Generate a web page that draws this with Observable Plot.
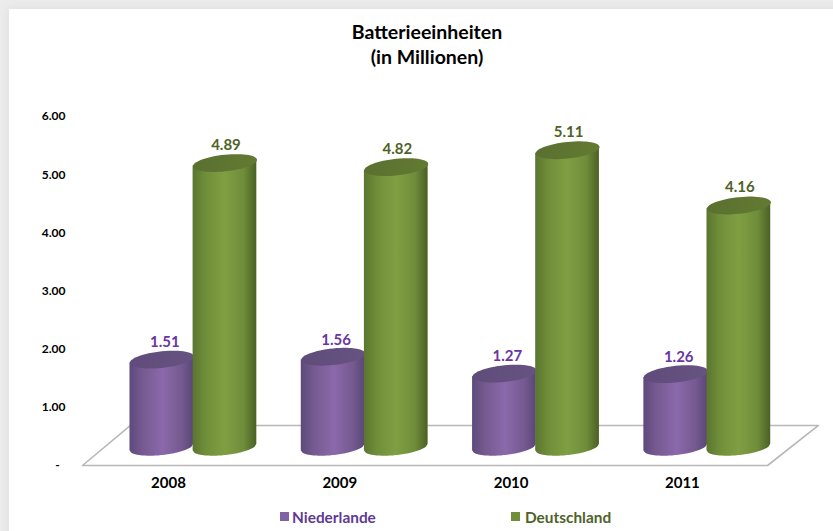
<!DOCTYPE html>
<html><head><meta charset="utf-8">
<script src="https://cdn.jsdelivr.net/npm/d3@7"></script>
<script src="https://cdn.jsdelivr.net/npm/@observablehq/plot@0.6"></script>
<style>
html,body{margin:0;padding:0;background:#ececec;overflow:hidden}
#wrap{position:absolute;left:9px;top:9px;width:900px;height:600px;background:#fff;box-shadow:0 0 8px 2px #e2e2e2}
#page{position:absolute;left:0;top:0;width:833px;height:531px;font-family:Lato,sans-serif;font-weight:700}
#title{height:56px;padding:19px 0 1px 21px;text-align:center;font-size:19.5px;line-height:25px;color:#000;box-sizing:content-box}
#legend{position:relative;height:31px;font-size:15.4px}
#legend span{position:absolute;top:7px;line-height:20px}
#legend i{position:absolute;top:12px;width:9px;height:9px}
svg{display:block}
</style></head><body>
<div id="wrap"></div>
<div id="page">
<div id="title">Batterieeinheiten<br>(in Millionen)</div>
<div id="chart"></div>
<div id="legend">
<i style="left:280px;background:#8064a2"></i><span style="left:292px;color:#5f3a95">Niederlande</span>
<i style="left:511px;background:#6f8f38"></i><span style="left:525px;color:#4f6228">Deutschland</span>
</div>
</div>
<script>
const years = ["2008","2009","2010","2011"];
const niederlande = [1.51,1.56,1.27,1.26];
const deutschland = [4.89,4.82,5.11,4.16];
const yTicks = [0,1,2,3,4,5,6];
const floorX = [-0.642,3.357,3.654,-0.362,-0.642];
const floorY = [0,0,0.688,0.688,0];
const depth = 0.31, halfW = 0.186, capH = 0.14, tilt = 0.055, labelShift = 0.14, nudge = 0.007;

const bars = [];
years.forEach((y,i)=>{
  bars.push({key:y+"N",series:"N",cx:i-halfW+nudge,value:niederlande[i]});
  bars.push({key:y+"D",series:"D",cx:i+halfW+nudge/2,value:deutschland[i]});
});
bars.forEach(b=>{b.top=b.value+depth;});
const outline = bars.flatMap(b=>d3.range(-1,1.0001,0.05).map(t=>({
  key:b.key, series:b.series,
  x:b.cx+t*halfW,
  y1:depth+t*tilt-capH*Math.sqrt(Math.max(0,1-t*t)),
  y2:b.top+t*tilt
})));
const cap = {draw(c,size){
  const a=Math.sqrt(size/Math.PI), b=a*0.26, k=0.1;
  for(let n=0;n<=60;n++){
    const t=n/60*2*Math.PI, X=a*Math.cos(t), Y=b*Math.sin(t)-k*X;
    n?c.lineTo(X,Y):c.moveTo(X,Y);
  }
  c.closePath();
}};
function defs(){
  const NS="http://www.w3.org/2000/svg", d=document.createElementNS(NS,"defs");
  const g=(id,stops)=>{
    const l=document.createElementNS(NS,"linearGradient");l.setAttribute("id",id);
    stops.forEach(([o,c])=>{const s=document.createElementNS(NS,"stop");s.setAttribute("offset",o);s.setAttribute("stop-color",c);l.appendChild(s);});
    d.appendChild(l);
  };
  g("gp",[[0,"#5d4a7c"],[0.2,"#75598f"],[0.52,"#8b69ab"],[0.82,"#75598f"],[1,"#5a4778"]]);
  g("gg",[[0,"#5b7530"],[0.2,"#6f8e39"],[0.5,"#809f43"],[0.8,"#6f8d3a"],[1,"#4b6025"]]);
  g("cp",[[0,"#5f4c7a"],[1,"#675381"]]);
  g("cg",[[0,"#5a7030"],[1,"#637a32"]]);
  return d;
}
const font={fontFamily:"Lato,sans-serif",fontWeight:700};
const sub=s=>outline.filter(d=>d.series===s), bs=s=>bars.filter(d=>d.series===s);
const group=s=>{
  const c=s==="N"?["url(#gp)","url(#cp)"]:["url(#gg)","url(#cg)"];
  return [
    Plot.area(sub(s),{x1:"x",y1:"y1",y2:"y2",z:"key",fill:c[0],curve:"linear"}),
    Plot.dot(bs(s),{x:"cx",y:"top",r:32,symbol:cap,fill:c[1],stroke:null})
  ];
};
const chart=Plot.plot({
  width:833,height:424,marginLeft:65,marginRight:0,marginTop:40,marginBottom:35,
  style:{background:"transparent",overflow:"visible",...font,color:"#000"},
  x:{type:"linear",domain:[-0.7414,3.742],range:[65,833]},
  y:{domain:[0,6],range:[389,40]},
  marks:[
    defs,
    Plot.line(floorX.map((x,i)=>({x,y:floorY[i]})),{x:"x",y:"y",stroke:"#b8b8b8",strokeWidth:1.6}),
    Plot.axisY({ticks:yTicks,tickSize:0,tickPadding:0,label:null,fontSize:12,fontWeight:700,fill:"#000",
      tickFormat:d=>d===0?"-\u00a0\u00a0":d.toFixed(2)}),
    Plot.axisX({ticks:years.map((_,i)=>i-labelShift),tickSize:0,tickPadding:12,label:null,fontSize:15,fontWeight:700,fill:"#000",
      tickFormat:d=>years[Math.round(d+labelShift)]}),
    ...group("N"),...group("D"),
    Plot.text(bs("N"),{x:"cx",y:"top",text:d=>d.value.toFixed(2),dx:3,dy:-17,fill:"#6a35a0",fontSize:15,fontWeight:700}),
    Plot.text(bs("D"),{x:"cx",y:"top",text:d=>d.value.toFixed(2),dx:1,dy:-18,fill:"#4f6228",fontSize:15,fontWeight:700})
  ]
});
document.getElementById("chart").appendChild(chart);
</script>
</body></html>
